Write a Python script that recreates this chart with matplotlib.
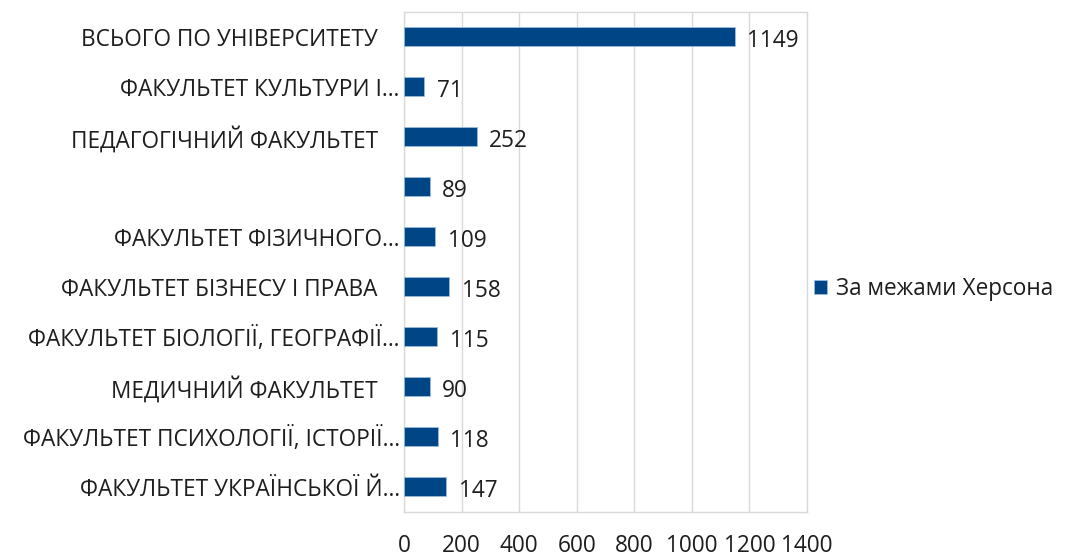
import matplotlib
matplotlib.use("Agg")
import matplotlib.pyplot as plt
import matplotlib.transforms as mtransforms

plt.rcParams['font.family'] = ['Open Sans', 'DejaVu Sans']

# data, top to bottom as in the picture
categories = [
    "ВСЬОГО ПО УНІВЕРСИТЕТУ",
    "ФАКУЛЬТЕТ КУЛЬТУРИ І…",
    "ПЕДАГОГІЧНИЙ ФАКУЛЬТЕТ",
    "",
    "ФАКУЛЬТЕТ ФІЗИЧНОГО…",
    "ФАКУЛЬТЕТ БІЗНЕСУ І ПРАВА",
    "ФАКУЛЬТЕТ БІОЛОГІЇ, ГЕОГРАФІЇ…",
    "МЕДИЧНИЙ ФАКУЛЬТЕТ",
    "ФАКУЛЬТЕТ ПСИХОЛОГІЇ, ІСТОРІЇ…",
    "ФАКУЛЬТЕТ УКРАЇНСЬКОЇ Й…",
]
values = [1149, 71, 252, 89, 109, 158, 115, 90, 118, 147]
series_name = "За межами Херсона"
xticks = [0, 200, 400, 600, 800, 1000, 1200, 1400]

bar_color = "#004586"
grid_color = "#d9d9d9"
txt_color = "#1e1e1e"
fs = 16.3

fig = plt.figure(figsize=(10.67, 5.59), dpi=100)
ax = fig.add_axes([0.3786, 0.0841, 0.3777, 0.8945])

ypos = list(range(len(values)))
bars = ax.barh(ypos, values, height=0.38, color=bar_color,
               edgecolor="#9dc3e6", linewidth=0.5, label=series_name, zorder=3)
ax.set_ylim(len(values) - 0.5, -0.5)
ax.set_xlim(0, 1400)
ax.set_xticks(xticks)
ax.set_xticklabels([str(t) for t in xticks], fontsize=fs, color=txt_color)
ax.set_yticks(ypos)
ax.set_yticklabels(categories, fontsize=fs, color=txt_color, va="center")
ax.tick_params(axis='x', length=0, pad=16)
ax.tick_params(axis='y', length=0, pad=3)
ax.grid(axis='x', color=grid_color, linewidth=1, zorder=0)
for s in ax.spines.values():
    s.set_color(grid_color)
    s.set_linewidth(1)

# full (not truncated) labels sit a bit further from the axis
shift = mtransforms.ScaledTranslation(0, -3 / 100, fig.dpi_scale_trans)
for lab in ax.get_yticklabels():
    t = lab.get_transform() + shift
    if not lab.get_text().endswith("…"):
        t = t + mtransforms.ScaledTranslation(-22 / 100, 0, fig.dpi_scale_trans)
    lab.set_transform(t)

for y, v in zip(ypos, values):
    ax.annotate(str(v), (v, y), xytext=(9, -3), textcoords="offset points",
                va="center", ha="left", fontsize=fs, color=txt_color)

leg = fig.legend(handles=[bars], labels=[series_name], loc="center left",
                 bbox_to_anchor=(0.744, 0.483), frameon=False, fontsize=fs,
                 handlelength=0.55, handleheight=0.55, handletextpad=0.4)
for t in leg.get_texts():
    t.set_color(txt_color)

fig.savefig("out.png", dpi=100)
